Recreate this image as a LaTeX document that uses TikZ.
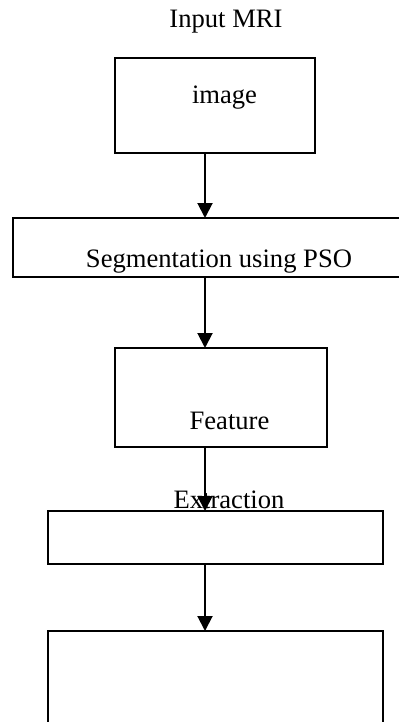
\documentclass[tikz,border=0pt]{standalone}
\usepackage{fontspec}
\setmainfont{Liberation Serif}
\usetikzlibrary{arrows.meta}
\tikzset{box/.style={draw,line width=0.8pt,inner sep=0pt,outer sep=0pt},
 lbl/.style={anchor=base,inner sep=0pt,font=\fontsize{13.3}{16}\selectfont},
 flow/.style={line width=1pt,-{Triangle[width=7.5pt,length=7.5pt]}}}
\begin{document}
\begin{tikzpicture}[x=1pt,y=-1pt]
 \useasboundingbox (0,0) rectangle (199,361);
 \coordinate (axis) at (102.5,0);
 \node[box,minimum width=100pt,minimum height=47.5pt] (img) at (107.5,52.75) {};
 \node[box,minimum width=195.5pt,minimum height=29.5pt] (seg) at (104.25,123.75) {};
 \node[box,minimum width=106pt,minimum height=49.5pt] (feat) at (110.5,198.75) {};
 \node[box,minimum width=167.5pt,minimum height=26.5pt] (ext) at (107.75,268.75) {};
 \node[box,minimum width=167.5pt,minimum height=54.5pt] (cls) at (107.75,342.75) {};
 \node[lbl] (tin) at (113,14) {Input MRI};
 \node[lbl] (timg) at (112.25,52) {image};
 \node[lbl] (tseg) at (109.5,133.5) {Segmentation using PSO};
 \node[lbl] (tfeat) at (114.75,214.5) {Feature};
 \node[lbl] (text) at (114.5,254) {Extraction};
 \draw[flow] (img.south -| axis) -- (seg.north -| axis);
 \draw[flow] (seg.south -| axis) -- (feat.north -| axis);
 \draw[flow] (feat.south -| axis) -- (ext.north -| axis);
 \draw[flow] (ext.south -| axis) -- (cls.north -| axis);
\end{tikzpicture}
\end{document}
